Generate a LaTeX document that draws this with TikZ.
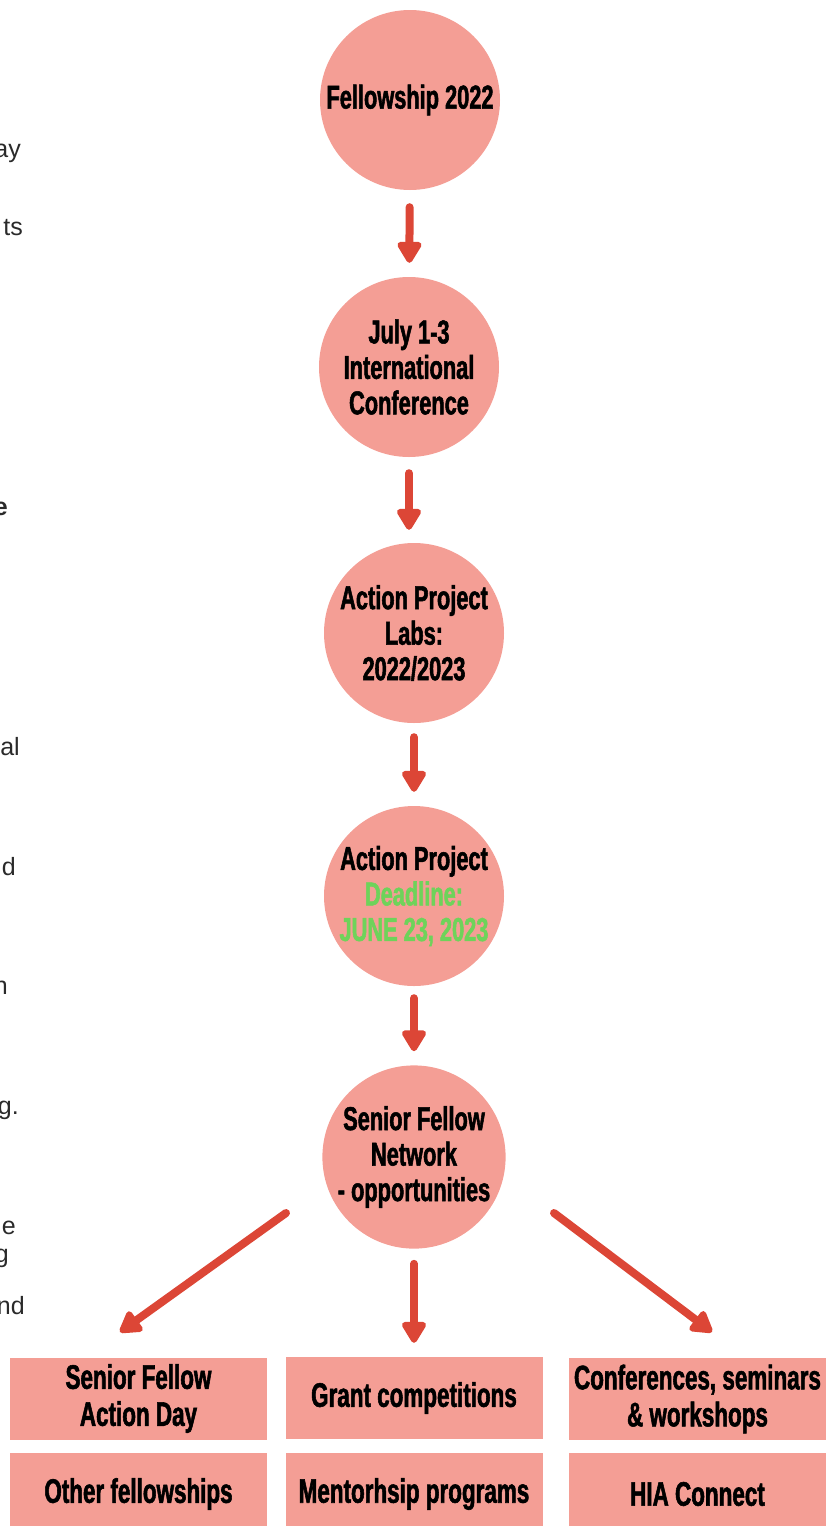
\documentclass[tikz,border=0pt]{standalone}
\usepackage{fontspec}
\setmainfont{Liberation Sans}
\newfontfamily\cond[FakeStretch=0.66,FakeBold=1.6]{Liberation Sans}
\usetikzlibrary{arrows.meta}
\definecolor{salmon}{HTML}{F49E95}
\definecolor{arrred}{HTML}{DC4636}
\definecolor{dgreen}{HTML}{6ED35A}
\definecolor{gtext}{HTML}{2A2A2A}
\tikzset{
  circ/.style={circle, fill=salmon, minimum size=180pt, inner sep=0pt, align=center,
    font=\cond\bfseries\fontsize{33}{35.5}\selectfont},
  boxn/.style={rectangle, fill=salmon, minimum width=257pt, minimum height=82pt, inner sep=0pt, align=center,
    font=\cond\bfseries\fontsize{34}{37}\selectfont},
  arr/.style={draw=arrred, line width=8pt, line cap=round,
    -{Triangle[width=27pt,length=24pt,round]}},
  side/.style={anchor=base east, inner sep=0pt, text=gtext, font=\fontsize{25}{30}\selectfont}
}
\begin{document}
\begin{tikzpicture}[x=1pt,y=-1pt]
\useasboundingbox (0,0) rectangle (838,1526);
\begin{scope}
\clip (0,0) rectangle (838,1526);
% left cut-off text fragments
\node[side] (s1) at (21,157) {ay};
\node[side] (s2) at (23,235) {ts};
\node[side, font=\bfseries\fontsize{25}{30}\selectfont] (s3) at (8,515) {e};
\node[side] (s4) at (20,755) {al};
\node[side] (s5) at (16,875) {d};
\node[side] (s6) at (8,994) {n};
\node[side] (s7) at (19,1114) {g.};
\node[side] (s8) at (16,1234) {e};
\node[side] (s9) at (9,1262) {g};
\node[side] (s10) at (25,1314) {nd};

% circles
\node[circ] (c1) at (410,100) {Fellowship 2022};
\node[circ] (c2) at (409,367) {July 1-3\\International\\Conference};
\node[circ] (c3) at (414,633) {Action Project\\Labs:\\2022/2023};
\node[circ] (c4) at (414,896) {Action Project\\\textcolor{dgreen}{Deadline:}\\\textcolor{dgreen}{JUNE 23, 2023}};
\node[circ] (c5) at (414,1157) {Senior Fellow\\Network\\- opportunities};

% boxes
\node[boxn] (b1) at (138.5,1398.5) {Senior Fellow\\Action Day};
\node[boxn] (b2) at (414,1398) {Grant competitions};
\node[boxn] (b3) at (697.5,1399) {Conferences, seminars\\\& workshops};
\node[boxn] (b4) at (138.5,1494) {Other fellowships};
\node[boxn] (b5) at (414,1494) {Mentorhsip programs};
\node[boxn] (b6) at (697.5,1494) {HIA Connect};

% arrows
\draw[arr, shorten <=17pt, shorten >=14pt] (c1) -- (c2);
\draw[arr, shorten <=16pt, shorten >=13pt] (c2.south -| 409,0) -- (c3.north -| 409,0);
\draw[arr, shorten <=14pt, shorten >=14pt] (c3) -- (c4);
\draw[arr, shorten <=12pt, shorten >=14pt] (c4) -- (c5);
\draw[arr, shorten <=15pt, shorten >=14pt] (c5) -- (b2);
\coordinate (la) at (286,1213);
\coordinate (lb) at (120,1332);
\coordinate (ra) at (554,1213);
\coordinate (rb) at (712,1332);
\draw[arr] (la) -- (lb);
\draw[arr] (ra) -- (rb);
\end{scope}
\end{tikzpicture}
\end{document}
